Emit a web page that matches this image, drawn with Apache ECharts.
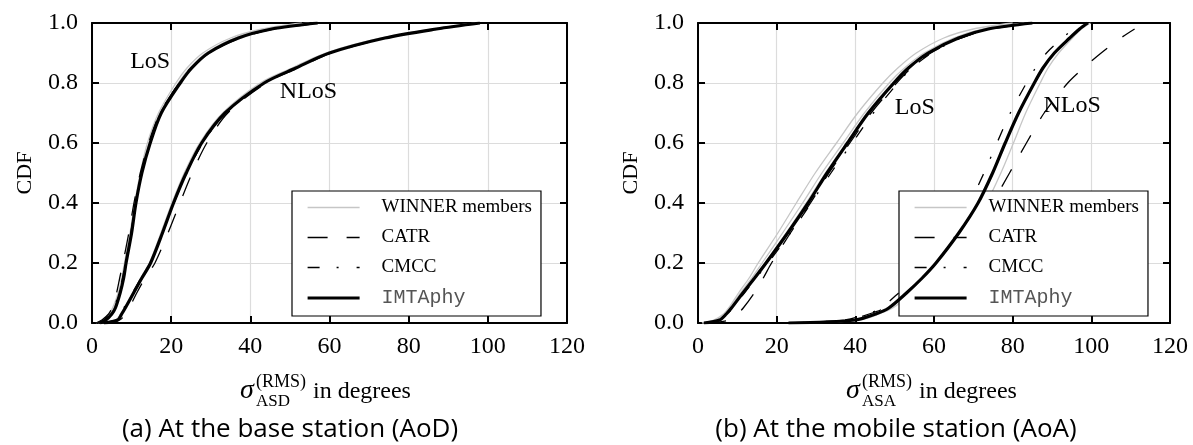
<!DOCTYPE html>
<html>
<head>
<meta charset="utf-8">
<script src="https://cdn.jsdelivr.net/npm/echarts@6/dist/echarts.min.js"></script>
<style>
  html, body { margin: 0; padding: 0; background: #fff; }
  #chart { width: 1193px; height: 445px; }
</style>
</head>
<body>
<div id="chart"></div>
<script>
// CDF levels shared by every curve; each curve lists its angle (degrees) at these levels
const cdfLevels = [0, 0.01, 0.03, 0.05, 0.1, 0.15, 0.2, 0.3, 0.4, 0.5, 0.6, 0.7, 0.8, 0.85, 0.9, 0.95, 0.98, 1.0]
const xTicks = [0, 20, 40, 60, 80, 100, 120]
const yTicks = [0, 0.2, 0.4, 0.6, 0.8, 1.0]

// (a) AoD at the base station
const aodLosWinner1 = [1, 2.8, 4.2, 5.2, 6.6, 7.5, 8.2, 9.6, 10.8, 12.2, 14.0, 16.8, 21.2, 24.0, 28.0, 35.0, 43.0, 53]
const aodLosWinner2 = [1.5, 3.2, 4.6, 5.6, 6.9, 7.8, 8.5, 9.9, 11.0, 12.5, 14.4, 17.2, 21.8, 24.7, 28.8, 36.0, 44.5, 55]
const aodLosCatr = [1, 2.5, 4.2, 5.0, 6.2, 7.0, 7.8, 9.3, 10.6, 12.2, 14.3, 17.2, 22.0, 25.0, 29.5, 37.5, 46, 58]
const aodLosCmcc = [1.5, 3, 4.6, 5.5, 6.8, 7.7, 8.4, 9.8, 11.0, 12.5, 14.5, 17.3, 22.0, 25.0, 29.6, 37.0, 46, 56]
const aodLosImta = [2, 3.5, 5.0, 5.9, 7.1, 8.0, 8.6, 10.0, 11.1, 12.6, 14.7, 17.5, 22.3, 25.2, 29.4, 37.0, 45.4, 57]

const aodNlosWinner = [2, 6, 7.2, 8.2, 10.3, 12.3, 14.5, 17.4, 20.2, 23.3, 27.2, 33.0, 42.5, 50.5, 59, 73, 86, 97]
const aodNlosCatr = [3, 7, 8.5, 9.4, 11.3, 13.4, 15.9, 19.2, 22.2, 25.3, 29.0, 34.3, 44.0, 52, 60.5, 74.5, 87.5, 98]
const aodNlosCmcc = [2.5, 6, 7, 8, 10.2, 12.4, 14.7, 17.8, 20.7, 24.0, 28.0, 33.8, 43.5, 51.5, 60, 74, 87, 98]
const aodNlosImta = [3, 6.5, 7.5, 8.4, 10.5, 12.6, 14.8, 17.8, 20.6, 23.8, 27.7, 33.6, 43.5, 51.5, 60, 74, 87, 98]

// (b) AoA at the mobile station
const aoaLosWinner1 = [1, 4, 6.5, 7.8, 10.3, 13.0, 15.3, 20.3, 25.0, 29.8, 35.2, 40.6, 47.0, 50.8, 55.5, 62.5, 70, 80]
const aoaLosWinner2 = [1.2, 4.5, 6.8, 8.0, 10.8, 13.7, 16.3, 21.5, 26.6, 31.5, 36.9, 42.3, 48.6, 52.5, 57.5, 65.0, 72.5, 83]
const aoaLosWinner3 = [1.5, 5, 7.0, 8.3, 11.2, 14.2, 17.0, 22.4, 27.5, 32.4, 37.7, 43.0, 49.4, 53.2, 58.3, 66.0, 73.5, 84]
const aoaLosCatr = [2, 8, 10.0, 11.5, 14.3, 16.6, 18.7, 23.5, 28.6, 33.3, 38.6, 44.0, 50.5, 54.2, 59.2, 67.0, 74.5, 86]
const aoaLosCmcc = [1.5, 5.8, 7.5, 8.8, 11.8, 14.8, 17.8, 23.5, 28.8, 33.8, 39.2, 44.6, 50.8, 54.4, 59.4, 66.8, 74.5, 85]
const aoaLosImta = [1.5, 5.5, 7.2, 8.5, 11.4, 14.4, 17.3, 22.8, 28.0, 32.8, 38.0, 43.3, 49.8, 53.5, 58.5, 66.2, 73.8, 85]

const aoaNlosWinner = [24, 41, 46.0, 49.5, 54.5, 58.5, 62.3, 68.3, 73.3, 77.0, 80.2, 83.3, 87.0, 89.0, 91.7, 95.2, 97.5, 99.8]
const aoaNlosCatr = [22, 38, 43.5, 47.5, 53.5, 58.5, 62.5, 69.5, 74.8, 79.2, 83.5, 88.0, 94.0, 98.0, 102.5, 107.5, 111, null]
const aoaNlosCmcc = [25, 37, 43.0, 46.5, 51.0, 55.0, 58.5, 64.3, 69.0, 72.7, 76.0, 79.4, 83.5, 85.8, 88.6, 92.7, 95.5, 98]
const aoaNlosImta = [23, 40, 45.2, 48.5, 53.0, 57.0, 60.5, 66.3, 71.2, 74.9, 78.1, 81.5, 85.5, 87.7, 90.6, 94.5, 97, 99.1]

const legendNames = ['WINNER members', 'CATR', 'CMCC', 'IMTAphy']

const SERIF = 'Liberation Serif'
const styles = {
  'WINNER members': { color: '#c6c6c6', width: 1.3, type: 'solid' },
  CATR: { color: '#000', width: 1.3, type: [20, 19] },
  CMCC: { color: '#000', width: 1.3, type: [12, 17, 2, 18] },
  IMTAphy: { color: '#000', width: 3.2, type: 'solid' },
}

// one curve -> one line series
function curve(name, xs, panel, label) {
  const s = {
    type: 'line',
    name,
    xAxisIndex: panel * 2,
    yAxisIndex: panel * 2,
    data: xs.map((x, i) => [x, cdfLevels[i]]).filter(d => d[0] !== null),
    symbol: 'none',
    smooth: 0.3,
    lineStyle: styles[name],
    itemStyle: { color: styles[name].color },
    z: name === 'IMTAphy' ? 4 : 3,
  }
  if (label) {
    s.markPoint = {
      symbol: 'circle',
      symbolSize: 0,
      label: { show: true, position: 'inside', formatter: '{b}', color: '#000', fontFamily: SERIF, fontSize: 24 },
      data: [{ name: label.text, coord: label.at }],
    }
  }
  return s
}

function axesX(panel) {
  const base = {
    type: 'value', gridIndex: panel, min: xTicks[0], max: xTicks[xTicks.length - 1], interval: 20,
    axisLine: { show: true, onZero: false, lineStyle: { color: '#000', width: 2 } },
    axisTick: { show: true, inside: true, length: 7, lineStyle: { color: '#000', width: 2 } },
  }
  return [
    { ...base, position: 'bottom',
      axisLabel: { color: '#000', fontFamily: SERIF, fontSize: 24, margin: 12 },
      splitLine: { show: true, lineStyle: { color: '#dcdcdc', width: 1.2 } } },
    { ...base, position: 'top', axisLabel: { show: false }, splitLine: { show: false } },
  ]
}

function axesY(panel) {
  const base = {
    type: 'value', gridIndex: panel, min: yTicks[0], max: yTicks[yTicks.length - 1], interval: 0.2,
    axisLine: { show: true, onZero: false, lineStyle: { color: '#000', width: 2 } },
    axisTick: { show: true, inside: true, length: 7, lineStyle: { color: '#000', width: 2 } },
  }
  return [
    { ...base, position: 'left',
      name: 'CDF', nameLocation: 'middle', nameGap: 56, nameRotate: 90,
      nameTextStyle: { color: '#000', fontFamily: SERIF, fontSize: 22 },
      axisLabel: { color: '#000', fontFamily: SERIF, fontSize: 24, margin: 14, formatter: v => v.toFixed(1) },
      splitLine: { show: true, lineStyle: { color: '#dcdcdc', width: 1.2 } } },
    { ...base, position: 'right', axisLabel: { show: false }, splitLine: { show: false } },
  ]
}

function legendAt(left) {
  return {
    orient: 'vertical', left, top: 191,
    data: legendNames.map(name => ({ name, lineStyle: { ...styles[name] } })),
    backgroundColor: '#fff', borderColor: '#000', borderWidth: 1.2, borderRadius: 0,
    padding: [7, 9, 8, 14],
    itemWidth: 52, itemHeight: 14, itemGap: 11,
    itemStyle: { opacity: 0 },
    selectedMode: false,
    textStyle: {
      color: '#000', fontFamily: SERIF, fontSize: 19, padding: [0, 0, 0, 17],
      rich: { mono: { fontFamily: 'Liberation Mono', fontSize: 20, color: '#555' } },
    },
    formatter: name => (name === 'IMTAphy' ? '{mono|IMTAphy}' : name),
  }
}

// sigma label with stacked super/subscript, placed from the plot's left edge
function xLabel(plotLeft, sub) {
  const y = 392
  const left = plotLeft + 148
  return [
    { type: 'text', x: left, y: y - 1, style: { text: 'σ', fill: '#000', fontFamily: SERIF, fontStyle: 'italic', fontSize: 28, align: 'left', verticalAlign: 'middle' } },
    { type: 'text', x: left + 16, y: y - 10, style: { text: '(RMS)', fill: '#000', fontFamily: SERIF, fontSize: 18, align: 'left', verticalAlign: 'middle' } },
    { type: 'text', x: left + 16, y: y + 10, style: { text: sub, fill: '#000', fontFamily: SERIF, fontSize: 17, align: 'left', verticalAlign: 'middle' } },
    { type: 'text', x: left + 73, y, style: { text: 'in degrees', fill: '#000', fontFamily: SERIF, fontSize: 24, align: 'left', verticalAlign: 'middle' } },
  ]
}

function caption(x, text) {
  return { type: 'text', x, y: 430, style: { text, fill: '#000', fontFamily: 'Open Sans', fontSize: 26, align: 'center', verticalAlign: 'middle' } }
}

const chart = echarts.init(document.getElementById('chart'), null, { renderer: 'canvas' })

chart.setOption({
  animation: false,
  backgroundColor: '#fff',
  grid: [
    { left: 92, top: 23, width: 475, height: 300 },
    { left: 698, top: 23, width: 472, height: 300 },
  ],
  xAxis: [...axesX(0), ...axesX(1)],
  yAxis: [...axesY(0), ...axesY(1)],
  legend: [legendAt(292), legendAt(899)],
  series: [
    curve('WINNER members', aodLosWinner1, 0),
    curve('WINNER members', aodLosWinner2, 0),
    curve('WINNER members', aodNlosWinner, 0),
    curve('CATR', aodLosCatr, 0),
    curve('CATR', aodNlosCatr, 0),
    curve('CMCC', aodLosCmcc, 0),
    curve('CMCC', aodNlosCmcc, 0),
    curve('IMTAphy', aodLosImta, 0, { text: 'LoS', at: [14.7, 0.871] }),
    curve('IMTAphy', aodNlosImta, 0, { text: 'NLoS', at: [54.7, 0.771] }),

    curve('WINNER members', aoaLosWinner1, 1),
    curve('WINNER members', aoaLosWinner2, 1),
    curve('WINNER members', aoaLosWinner3, 1),
    curve('WINNER members', aoaNlosWinner, 1),
    curve('CATR', aoaLosCatr, 1),
    curve('CATR', aoaNlosCatr, 1),
    curve('CMCC', aoaLosCmcc, 1),
    curve('CMCC', aoaNlosCmcc, 1),
    curve('IMTAphy', aoaLosImta, 1, { text: 'LoS', at: [55.1, 0.719] }),
    curve('IMTAphy', aoaNlosImta, 1, { text: 'NLoS', at: [95.1, 0.723] }),
  ],
  graphic: [
    ...xLabel(92, 'ASD'),
    ...xLabel(698, 'ASA'),
    caption(290, '(a) At the base station (AoD)'),
    caption(896, '(b) At the mobile station (AoA)'),
  ],
})
</script>
</body>
</html>
